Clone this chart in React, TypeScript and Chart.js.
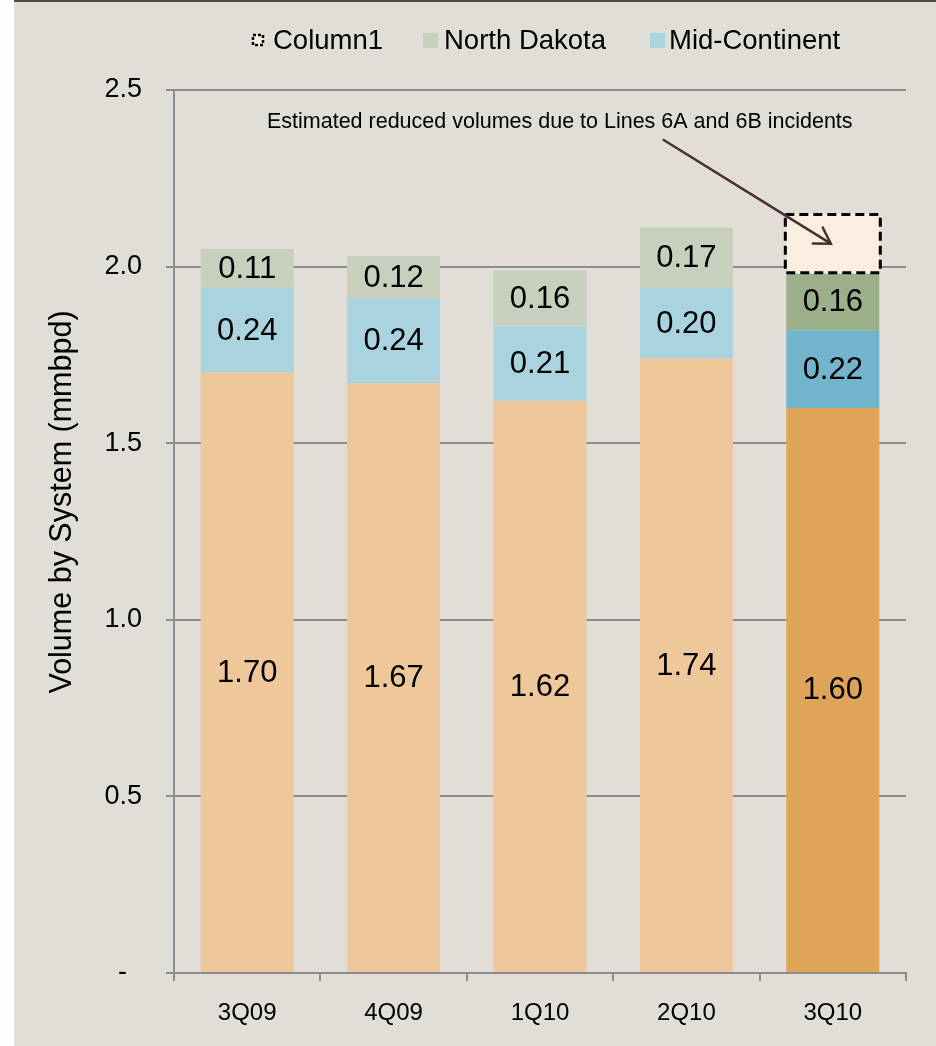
import React, { useEffect, useRef } from "react";
import { Chart, registerables } from "chart.js";

Chart.register(...registerables);

// Quarterly delivery volumes by system (mmbpd)
const quarters = ["3Q09", "4Q09", "1Q10", "2Q10", "3Q10"];
const baseVolumes = [1.7, 1.67, 1.62, 1.74, 1.6];
const midContinent = [0.24, 0.24, 0.21, 0.2, 0.22];
const northDakota = [0.11, 0.12, 0.16, 0.17, 0.16];
const column1 = [null, null, null, null, 0.17];
const yTicks = [0, 0.5, 1.0, 1.5, 2.0, 2.5];

const calloutText = "Estimated reduced volumes due to Lines 6A and 6B incidents";
const yTitle = "Volume by System (mmbpd)";

const FONT = "'Liberation Sans', Arial, Helvetica, sans-serif";
const AXIS_GRAY = "#8c8c8c";

// last quarter is highlighted with deeper shades
const shade = (light: string, dark: string) =>
  quarters.map((_, i) => (i === quarters.length - 1 ? dark : light));

const overlay = {
  id: "overlay",
  afterDatasetsDraw(chart: any) {
    const ctx = chart.ctx;
    const area = chart.chartArea;
    ctx.save();

    // values written inside each stacked segment
    ctx.font = `31px ${FONT}`;
    ctx.fillStyle = "#000";
    ctx.textAlign = "center";
    ctx.textBaseline = "middle";
    chart.data.datasets.forEach((ds: any, i: number) => {
      if (ds.label === "Column1") return;
      const meta = chart.getDatasetMeta(i);
      meta.data.forEach((bar: any, j: number) => {
        const v = ds.data[j];
        if (v == null) return;
        const p = bar.getProps(["x", "y", "base"], true);
        ctx.fillText(v.toFixed(2), p.x, (p.y + p.base) / 2 + 1);
      });
    });

    // dashed outline around the estimated-loss segment
    let target: { x: number; y: number } | null = null;
    chart.data.datasets.forEach((ds: any, i: number) => {
      if (ds.label !== "Column1") return;
      const meta = chart.getDatasetMeta(i);
      meta.data.forEach((bar: any, j: number) => {
        if (ds.data[j] == null) return;
        const p = bar.getProps(["x", "y", "base", "width"], true);
        ctx.save();
        ctx.setLineDash([9, 5]);
        ctx.lineWidth = 3;
        ctx.strokeStyle = "#000";
        ctx.strokeRect(p.x - p.width / 2 - 1, p.y + 1, p.width + 2, p.base - p.y - 2);
        ctx.restore();
        target = { x: p.x - 2, y: (p.y + p.base) / 2 };
      });
    });

    // callout text and arrow
    ctx.font = `21.5px ${FONT}`;
    ctx.fillStyle = "#000";
    ctx.textAlign = "center";
    ctx.textBaseline = "middle";
    const tx = area.left + (area.right - area.left) * 0.527;
    ctx.fillText(calloutText, tx, area.top + 32);

    if (target) {
      const sx = area.left + (area.right - area.left) * 0.669;
      const sy = area.top + 50;
      const t = target as { x: number; y: number };
      ctx.strokeStyle = "#4b2d2e";
      ctx.lineWidth = 2.5;
      ctx.lineCap = "round";
      ctx.beginPath();
      ctx.moveTo(sx, sy);
      ctx.lineTo(t.x, t.y);
      ctx.stroke();
      const ang = Math.atan2(t.y - sy, t.x - sx);
      const head = 18;
      ctx.beginPath();
      ctx.moveTo(t.x - head * Math.cos(ang - 0.55), t.y - head * Math.sin(ang - 0.55));
      ctx.lineTo(t.x, t.y);
      ctx.lineTo(t.x - head * Math.cos(ang + 0.55), t.y - head * Math.sin(ang + 0.55));
      ctx.stroke();
    }
    ctx.restore();
  },
  afterDraw(chart: any) {
    const ctx = chart.ctx;
    const area = chart.chartArea;
    ctx.save();

    // legend (top series first, base series omitted)
    const items = chart.data.datasets
      .filter((ds: any) => ds.showInLegend)
      .slice()
      .reverse();
    const boxX = [238, 409, 636];
    const textX = [259, 430, 655];
    const cy = 38;
    ctx.font = `27.5px ${FONT}`;
    ctx.textAlign = "left";
    ctx.textBaseline = "middle";
    items.forEach((ds: any, k: number) => {
      const fill = Array.isArray(ds.backgroundColor) ? ds.backgroundColor[0] : ds.backgroundColor;
      if (ds.label === "Column1") {
        ctx.fillStyle = fill;
        ctx.fillRect(boxX[k] + 1, cy - 5, 10, 10);
        ctx.save();
        ctx.setLineDash([3, 2]);
        ctx.lineWidth = 2.5;
        ctx.strokeStyle = "#000";
        ctx.strokeRect(boxX[k] + 1, cy - 5, 10, 10);
        ctx.restore();
      } else {
        ctx.fillStyle = fill;
        ctx.fillRect(boxX[k], cy - 7, 15, 15);
      }
      ctx.fillStyle = "#000";
      ctx.fillText(ds.label, textX[k], cy + 1);
    });

    // y-axis title
    ctx.translate(49, area.top + 412);
    ctx.rotate(-Math.PI / 2);
    ctx.font = `30.5px ${FONT}`;
    ctx.textAlign = "center";
    ctx.textBaseline = "middle";
    ctx.fillStyle = "#000";
    ctx.fillText(yTitle, 0, 0);
    ctx.restore();
  },
};

export default function App() {
  const ref = useRef<HTMLCanvasElement>(null);

  useEffect(() => {
    const canvas = ref.current;
    if (!canvas) return;
    const chart = new Chart(canvas, {
      type: "bar",
      data: {
        labels: quarters,
        datasets: [
          {
            label: "Base system",
            data: baseVolumes,
            backgroundColor: shade("#eec89b", "#e0a458"),
            showInLegend: false,
          } as any,
          {
            label: "Mid-Continent",
            data: midContinent,
            backgroundColor: shade("#a9d3df", "#71b4cb"),
            showInLegend: true,
          } as any,
          {
            label: "North Dakota",
            data: northDakota,
            backgroundColor: shade("#c6d0bd", "#9caf8b"),
            showInLegend: true,
          } as any,
          {
            label: "Column1",
            data: column1,
            backgroundColor: "#faeee0",
            showInLegend: true,
          } as any,
        ],
      },
      options: {
        responsive: false,
        animation: false,
        events: [],
        datasets: {
          bar: { categoryPercentage: 1, barPercentage: 0.635, borderWidth: 0 },
        },
        layout: { padding: { top: 88, right: 30, bottom: 0, left: 0 } },
        plugins: {
          legend: { display: false },
          tooltip: { enabled: false },
          title: { display: false },
        },
        scales: {
          x: {
            stacked: true,
            grid: {
              drawOnChartArea: false,
              drawTicks: true,
              tickLength: 8,
              color: AXIS_GRAY,
              lineWidth: 2,
              offset: true,
            },
            border: { color: AXIS_GRAY, width: 2 },
            ticks: { color: "#000", font: { family: FONT, size: 24 }, padding: 18 },
            afterFit: (scale: any) => {
              scale.height = 73;
            },
          },
          y: {
            stacked: true,
            min: 0,
            max: 2.5,
            afterBuildTicks: (scale: any) => {
              scale.ticks = yTicks.map((v) => ({ value: v }));
            },
            grid: { color: AXIS_GRAY, lineWidth: 2, tickLength: 8 },
            border: { color: AXIS_GRAY, width: 2 },
            ticks: {
              color: "#000",
              font: { family: FONT, size: 27 },
              padding: 24,
              callback: (v: any) => (Number(v) === 0 ? "-  " : Number(v).toFixed(1)),
            },
            afterFit: (scale: any) => {
              scale.width = 160;
            },
          },
        },
      } as any,
      plugins: [overlay],
    });
    return () => chart.destroy();
  }, []);

  return (
    <div
      style={{
        position: "fixed",
        left: 0,
        top: 0,
        width: 936,
        height: 1046,
        background: "#ffffff",
        overflow: "hidden",
      }}
    >
      <div
        style={{
          position: "absolute",
          left: 14,
          top: 0,
          width: 922,
          height: 1046,
          background: "#e1ddd7",
          borderTop: "2px solid #5b4a3c",
          boxSizing: "border-box",
        }}
      >
        <canvas ref={ref} width={922} height={1044} style={{ display: "block" }} />
      </div>
    </div>
  );
}
